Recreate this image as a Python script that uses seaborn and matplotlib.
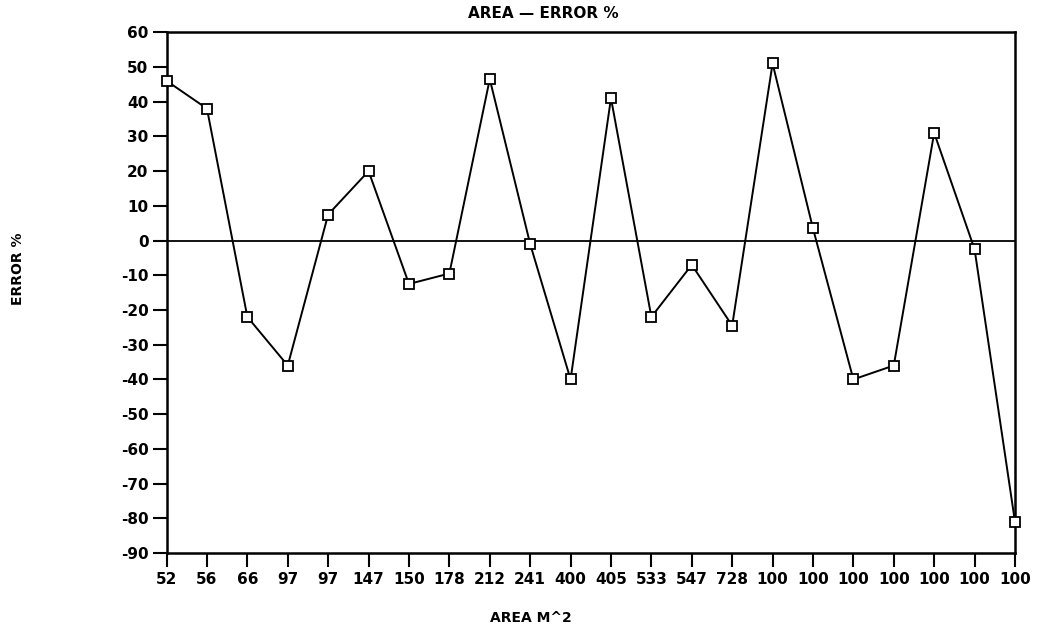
import matplotlib
matplotlib.use("Agg")
import matplotlib.pyplot as plt
import seaborn as sns
import numpy as np
import pandas as pd

area_labels = ["52", "56", "66", "97", "97", "147", "150", "178", "212", "241", "400",
               "405", "533", "547", "728", "100", "100", "100", "100", "100", "100", "100"]
error_pct = [46, 38, -22, -36, 7.5, 20, -12.5, -9.5, 46.5, -1, -40,
             41, -22, -7, -24.5, 51, 3.5, -40, -36, 31, -2.5, -81]
y_ticks = list(range(-90, 61, 10))

sns.set_theme(style="white")
plt.rcParams["font.family"] = ["DejaVu Sans"]
plt.rcParams["font.weight"] = "bold"
plt.rcParams["text.color"] = "black"
plt.rcParams["xtick.color"] = "black"
plt.rcParams["ytick.color"] = "black"
plt.rcParams["axes.labelcolor"] = "black"

fig = plt.figure(figsize=(10.41, 6.32), dpi=100)
ax = fig.add_axes([0.160, 0.125, 0.815, 0.824])

df = pd.DataFrame({"pos": np.arange(len(error_pct)), "err": error_pct})
sns.lineplot(data=df, x="pos", y="err", ax=ax, color="black", linewidth=1.4,
             marker="s", markersize=7.5, markerfacecolor="white",
             markeredgecolor="black", markeredgewidth=1.3)
for ln in ax.lines:
    ln.set_clip_on(False)
    ln.set_zorder(5)

ax.axhline(0, color="black", linewidth=1.3, zorder=1)

ax.set_xlim(0, len(error_pct) - 1)
ax.set_ylim(-90, 60)
ax.set_yticks(y_ticks)
ax.set_yticklabels([str(t) for t in y_ticks], fontsize=11, fontweight="bold", color="black")
ax.set_xticks(np.arange(len(area_labels)))
ax.set_xticklabels(area_labels, fontsize=11, fontweight="bold", color="black")
ax.tick_params(axis="both", direction="out", length=10, width=1.5, color="black",
               left=True, bottom=True, pad=4)
ax.tick_params(axis="y", pad=3)
for s in ax.spines.values():
    s.set_visible(True)
    s.set_color("black")
    s.set_linewidth(1.8)
ax.set_xlabel("")
ax.set_ylabel("")

fig.text(0.522, 0.978, "AREA — ERROR %", ha="center", va="center",
         fontsize=11, fontweight="bold", color="black")
fig.text(0.017, 0.575, "ERROR %", rotation=90, ha="center", va="center",
         fontsize=10, fontweight="bold", color="black")
fig.text(0.51, 0.022, "AREA M^2", ha="center", va="center",
         fontsize=10, fontweight="bold", color="black")

fig.savefig("out.png", dpi=100)
